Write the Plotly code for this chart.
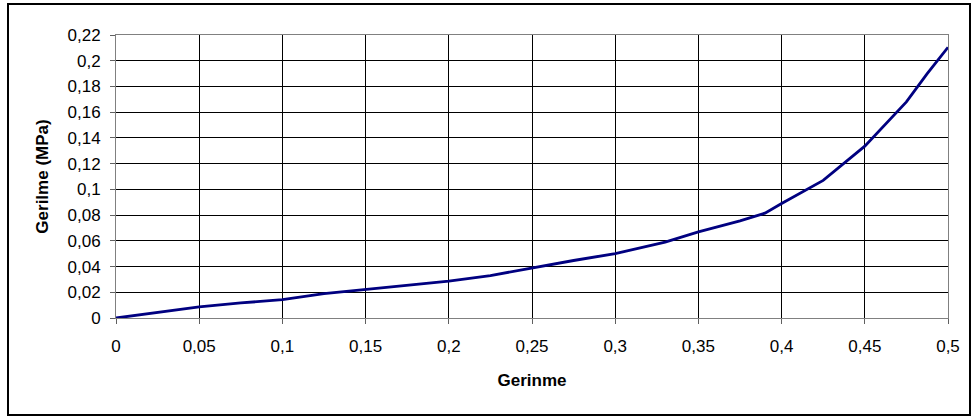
import plotly.graph_objects as go

# Strain (Gerinme) and stress (Gerilme, MPa) readings
gerinme = [0.0, 0.025, 0.05, 0.075, 0.1, 0.125, 0.15, 0.175, 0.2, 0.225,
           0.25, 0.275, 0.3, 0.33, 0.35, 0.375, 0.39, 0.4, 0.425, 0.4375,
           0.45, 0.475, 0.4875, 0.5]
gerilme = [0.0, 0.0045, 0.0086, 0.0117, 0.0143, 0.0190, 0.0222, 0.0250,
           0.0286, 0.0330, 0.0389, 0.0447, 0.0501, 0.0590, 0.0669, 0.0755,
           0.0815, 0.0890, 0.1070, 0.1200, 0.1336, 0.1680, 0.1900, 0.2104]

x_ticks = [0, 0.05, 0.1, 0.15, 0.2, 0.25, 0.3, 0.35, 0.4, 0.45, 0.5]
x_labels = ["0", "0,05", "0,1", "0,15", "0,2", "0,25", "0,3", "0,35", "0,4", "0,45", "0,5"]
y_ticks = [0, 0.02, 0.04, 0.06, 0.08, 0.1, 0.12, 0.14, 0.16, 0.18, 0.2, 0.22]
y_labels = ["0", "0,02", "0,04", "0,06", "0,08", "0,1", "0,12", "0,14", "0,16",
            "0,18", "0,2", "0,22"]

W, H = 980, 417
L, R, T, B = 116, 32, 35, 99
pw, ph = W - L - R, H - T - B

fig = go.Figure()
fig.add_trace(go.Scatter(
    x=gerinme, y=gerilme, mode="lines",
    line=dict(color="#000080", width=2.8),
    showlegend=False, hoverinfo="x+y",
))

font = dict(family="Liberation Sans, Arial, sans-serif", size=17, color="black")

fig.update_layout(
    width=W, height=H,
    margin=dict(l=L, r=R, t=T, b=B),
    paper_bgcolor="white", plot_bgcolor="white",
    font=font,
    xaxis=dict(
        range=[0, 0.5], tickmode="array", tickvals=x_ticks, ticktext=x_labels,
        showgrid=True, gridcolor="black", gridwidth=1,
        showline=True, linecolor="#808080", linewidth=1, mirror=True,
        ticks="outside", ticklen=5, tickcolor="#606060",
        zeroline=False, tickfont=font, ticklabelstandoff=8,
        title=dict(text="<b>Gerinme</b>", font=font, standoff=18),
    ),
    yaxis=dict(
        range=[0, 0.22], tickmode="array", tickvals=y_ticks, ticktext=y_labels,
        showgrid=True, gridcolor="black", gridwidth=1,
        showline=True, linecolor="#808080", linewidth=1, mirror=True,
        ticks="outside", ticklen=5, tickcolor="#606060",
        zeroline=False, tickfont=font, ticklabelstandoff=6,
        title=dict(text="<b>Gerilme (MPa)</b>", font=font, standoff=14),
    ),
)

# Outer chart frame
fig.add_shape(
    type="rect", xref="paper", yref="paper",
    x0=(8 - L) / pw, x1=(970 - L) / pw,
    y0=-(415 - (H - B)) / ph, y1=1 + (T - 4) / ph,
    line=dict(color="black", width=2), fillcolor="rgba(0,0,0,0)",
    layer="below",
)

fig.write_html("out.html")
